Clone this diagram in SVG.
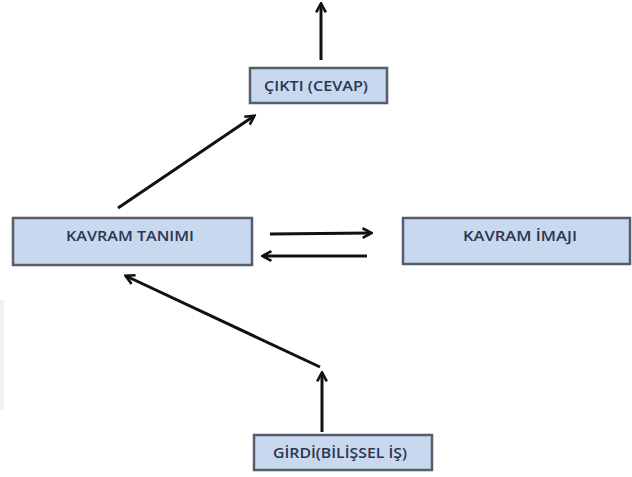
<svg xmlns="http://www.w3.org/2000/svg" width="632" height="477" viewBox="0 0 632 477">
  <style>
    .box { fill: #c8d8ee; stroke: #575e6b; stroke-width: 2.5; }
    .lbl { font-family: "Open Sans", "Liberation Sans", sans-serif; font-size: 13.5px; font-weight: 600; fill: #2b3552; text-anchor: middle; dominant-baseline: central; }
    .arr { stroke: #111; stroke-width: 3; fill: none; marker-end: url(#head); }
  </style>
  <defs>
    <marker id="head" viewBox="0 0 10 10" refX="8" refY="5" markerWidth="4" markerHeight="4" orient="auto" markerUnits="strokeWidth">
      <path d="M1,1 L8.5,5 L1,9" fill="none" stroke="#111" stroke-width="2.2" stroke-linejoin="miter"/>
    </marker>
  </defs>
  <rect x="0" y="0" width="632" height="477" fill="#ffffff"/>
  <rect x="0" y="300" width="4" height="110" fill="#f1f1f1"/>

  <g id="cikti">
    <rect class="box" x="250" y="68" width="137" height="35"/>
    <text class="lbl" x="316" y="86" textLength="104" lengthAdjust="spacingAndGlyphs">ÇIKTI (CEVAP)</text>
  </g>
  <g id="kavram-tanimi">
    <rect class="box" x="13" y="218" width="239" height="47"/>
    <text class="lbl" x="130" y="236" textLength="128" lengthAdjust="spacingAndGlyphs">KAVRAM  TANIMI</text>
  </g>
  <g id="kavram-imaji">
    <rect class="box" x="403" y="218" width="227" height="46"/>
    <text class="lbl" x="520" y="236" textLength="114" lengthAdjust="spacingAndGlyphs">KAVRAM  İMAJI</text>
  </g>
  <g id="girdi">
    <rect class="box" x="254" y="435" width="178" height="35"/>
    <text class="lbl" x="340" y="453" textLength="134" lengthAdjust="spacingAndGlyphs">GİRDİ(BİLİŞSEL İŞ)</text>
  </g>

  <g id="connectors">
    <line class="arr" x1="321" y1="60" x2="321" y2="4"/>
    <line class="arr" x1="118" y1="208" x2="254" y2="116"/>
    <line class="arr" x1="270" y1="234" x2="371" y2="233"/>
    <line class="arr" x1="367" y1="256" x2="263" y2="256"/>
    <line class="arr" x1="320" y1="367" x2="126" y2="276"/>
    <line class="arr" x1="322" y1="432" x2="322" y2="373"/>
  </g>
</svg>
